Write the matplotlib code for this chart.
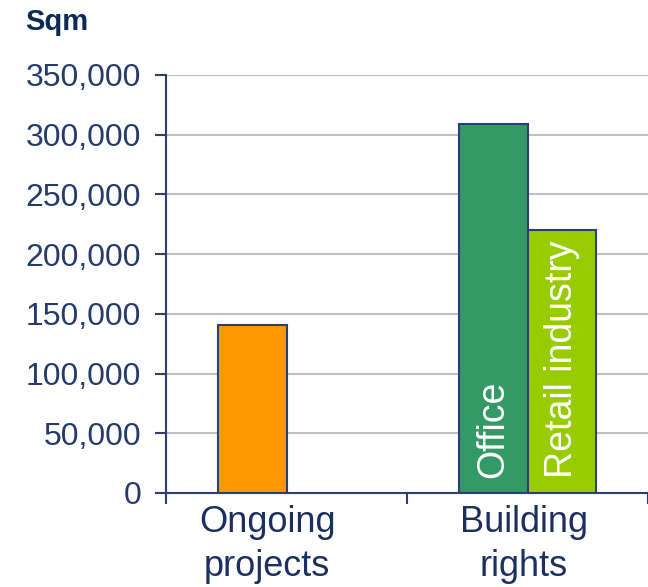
import matplotlib
matplotlib.use("Agg")
import matplotlib.pyplot as plt
import numpy as np

plt.rcParams['font.family'] = ['Liberation Sans', 'DejaVu Sans']

categories = ["Ongoing\nprojects", "Building\nrights"]
series_a = [141000, 309000]      # left bar in each group
series_b = [0, 220000]           # right bar in each group
colors_a = ["#FF9900", "#339966"]
colors_b = ["#99CC00", "#99CC00"]
bar_labels_a = ["", "Office"]
bar_labels_b = ["", "Retail industry"]
yticks = [0, 50000, 100000, 150000, 200000, 250000, 300000, 350000]

NAVY = "#1B3060"
EDGE = "#2E3F6E"

fig = plt.figure(figsize=(6.48, 5.87), dpi=100)
ax = fig.add_axes([166/648, 1-493/587, 482/648, 418/587])

x = np.arange(len(categories))
w = 0.285
for i in range(len(categories)):
    if series_a[i] > 0:
        ax.bar(x[i] - w/2, series_a[i], w, color=colors_a[i], edgecolor=EDGE, lw=1.5, zorder=3)
    if series_b[i] > 0:
        ax.bar(x[i] + w/2, series_b[i], w, color=colors_b[i], edgecolor=EDGE, lw=1.5, zorder=3)
    if bar_labels_a[i]:
        ax.text(x[i] - w/2, 12500, bar_labels_a[i], rotation=90, ha="center", va="bottom",
                color="white", fontsize=27, zorder=4)
    if bar_labels_b[i]:
        ax.text(x[i] + w/2, 12500, bar_labels_b[i], rotation=90, ha="center", va="bottom",
                color="white", fontsize=27, zorder=4)

ax.set_xlim(-0.5, 1.5)
ax.set_ylim(0, 350000)
ax.set_yticks(yticks)
ax.set_yticklabels([f"{v:,}" for v in yticks], fontsize=23, color="#243B6B")
ax.yaxis.grid(True, color="#C0C0C0", lw=1.5, zorder=0)
ax.set_axisbelow(True)

# category boundaries as ticks, labels near centres (first one sits a bit left)
ax.set_xticks([-0.5, 0.5, 1.5])
ax.set_xticklabels([])
ax.set_xticks(x + np.array([-0.08, -0.015]), minor=True)
ax.set_xticklabels(categories, minor=True, fontsize=26, color=NAVY, linespacing=1.3)
ax.tick_params(axis="x", which="minor", length=0, pad=9)
ax.tick_params(axis="x", which="major", length=8, width=1.5, color=EDGE, direction="out")
ax.tick_params(axis="y", length=8, width=1.5, color=EDGE, pad=10)

for s in ["top", "right"]:
    ax.spines[s].set_visible(False)
for s in ["left", "bottom"]:
    ax.spines[s].set_color(EDGE)
    ax.spines[s].set_linewidth(1.5)

fig.text(25/648, 1-22/587, "Sqm", fontsize=21, fontweight="bold", color="#0D2A55",
         ha="left", va="center")

fig.savefig("out.png", dpi=100)
